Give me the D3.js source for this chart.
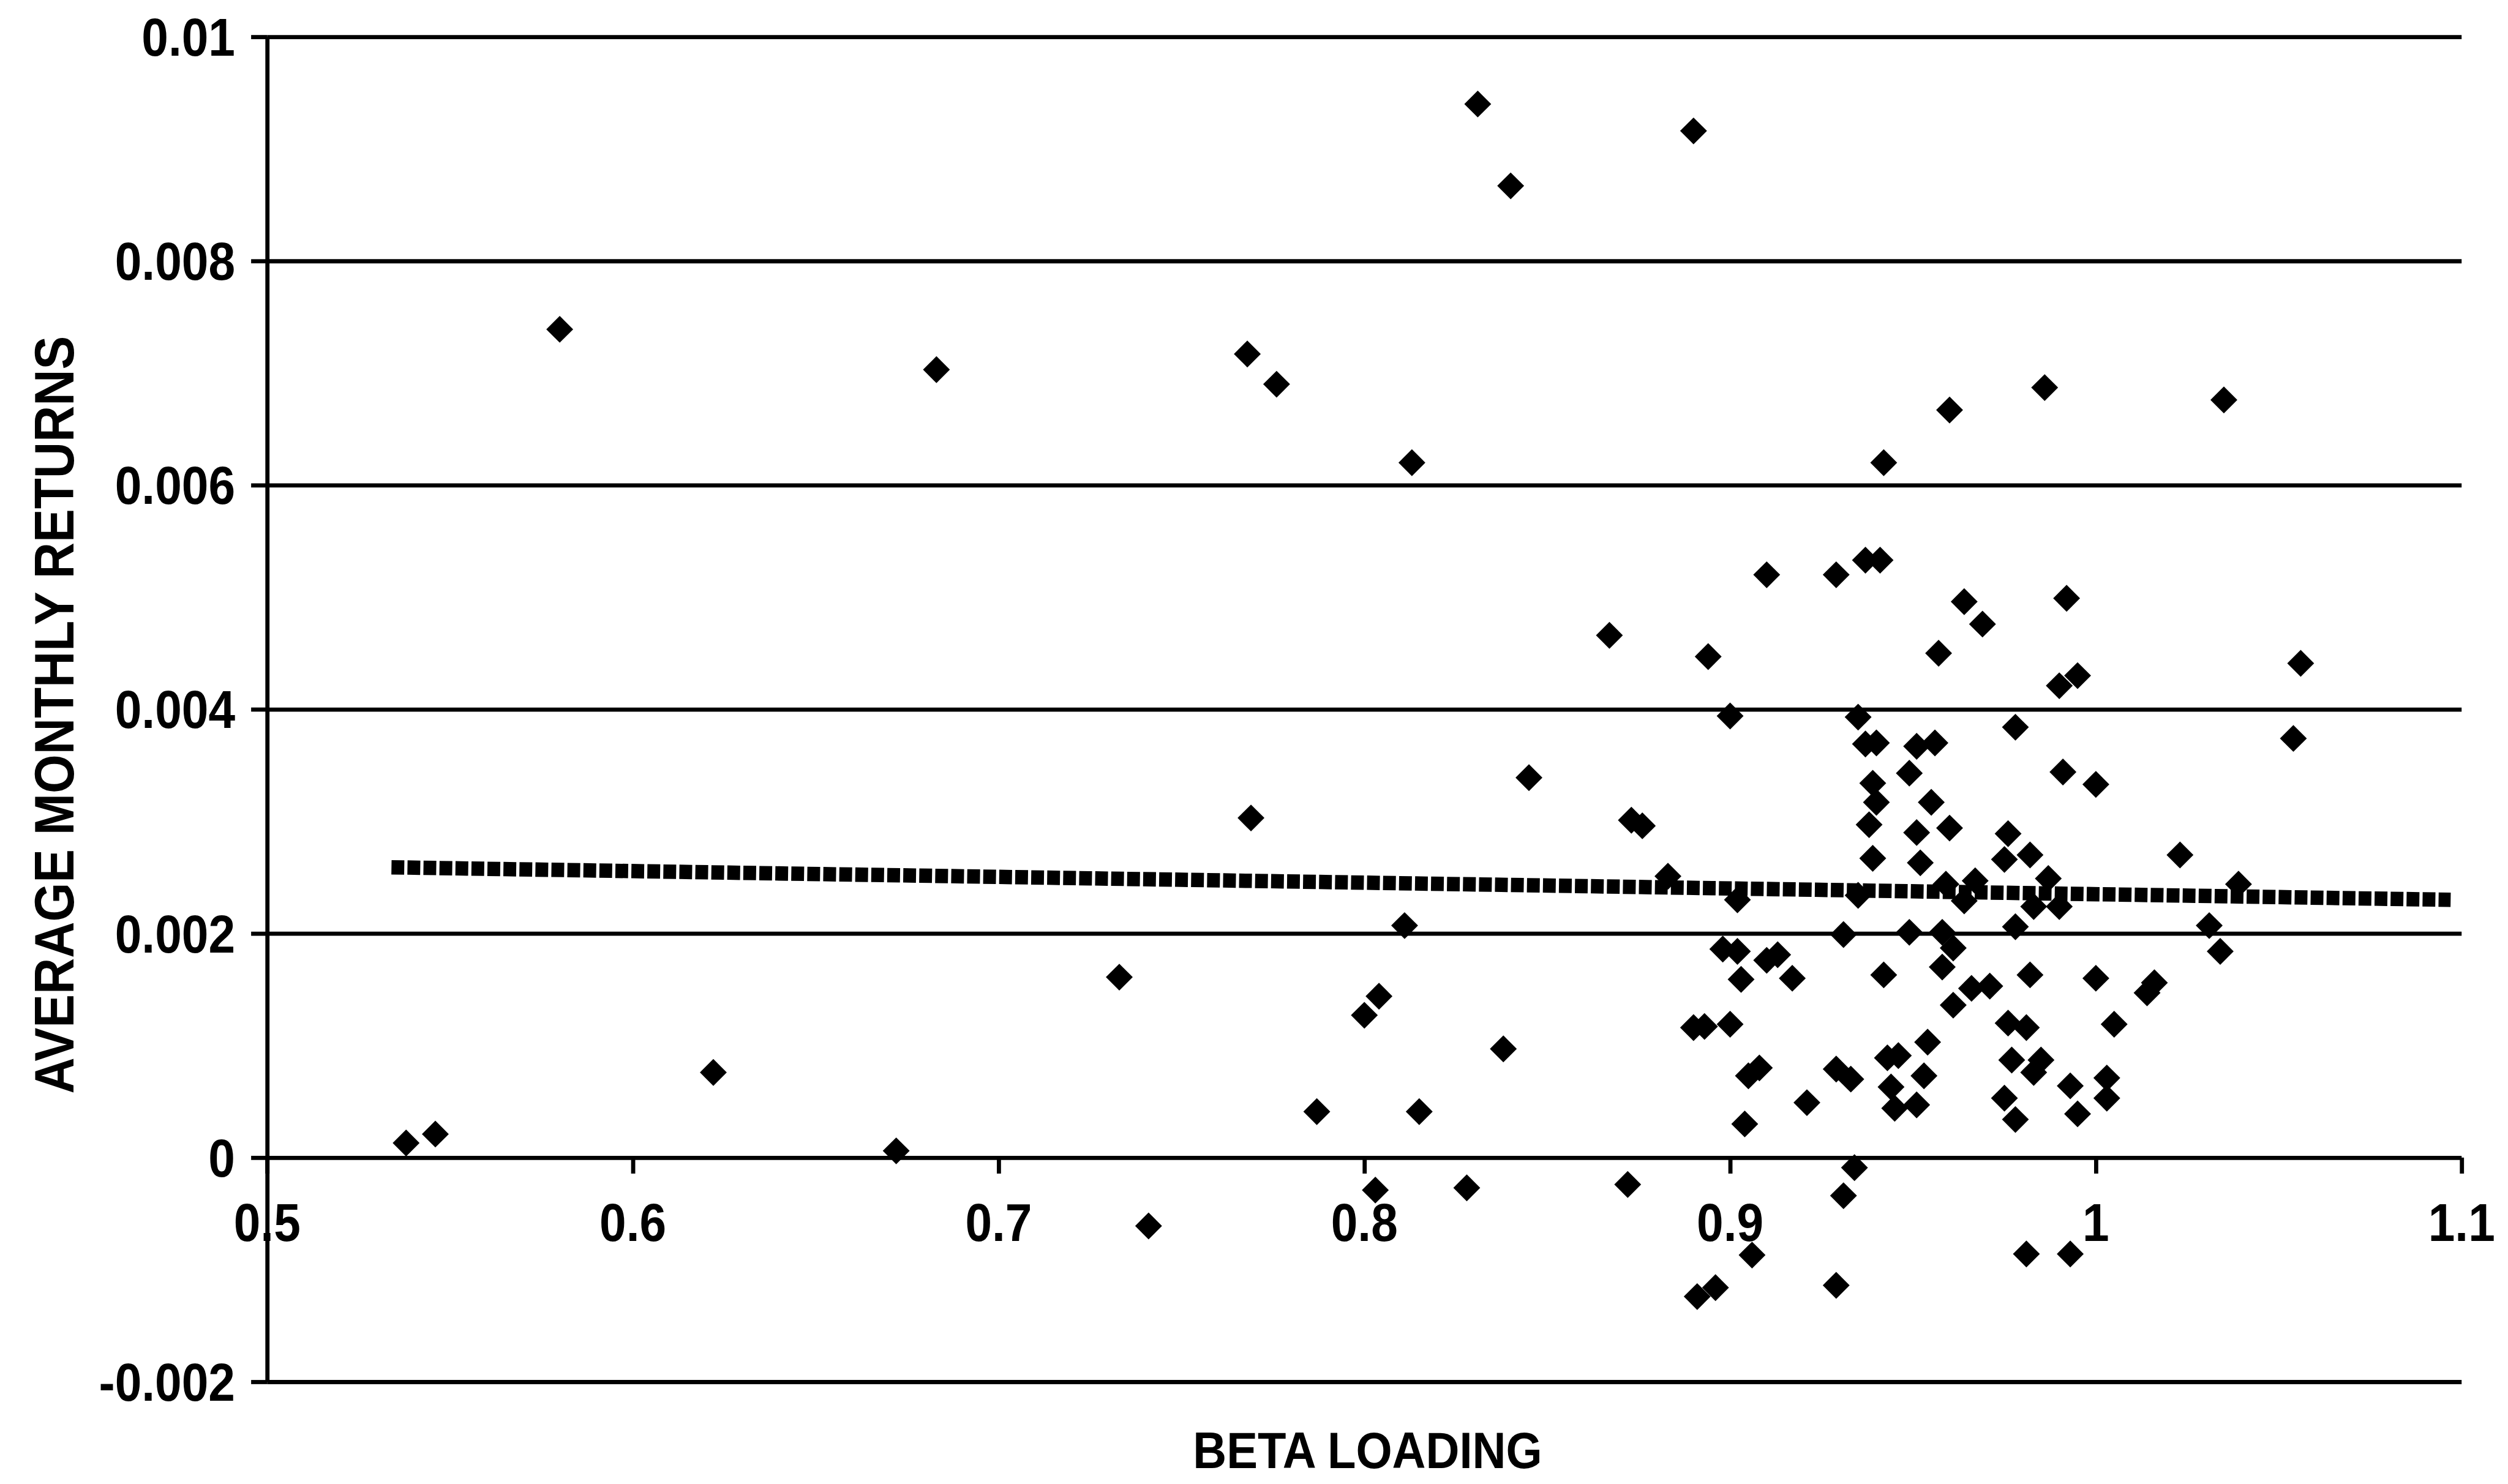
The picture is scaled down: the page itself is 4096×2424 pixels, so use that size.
<!DOCTYPE html>
<html>
<head>
<meta charset="utf-8">
<script src="https://cdn.jsdelivr.net/npm/d3@7/dist/d3.min.js"></script>
<style>
  html, body { margin: 0; padding: 0; background: #fff; overflow: hidden; }
  svg { display: block; }
</style>
</head>
<body>
<svg id="chart"></svg>
<script>
// Beta loading of each portfolio and its average monthly return
const betaLoading = [
  0.538, 0.546, 0.580, 0.622, 0.672, 0.683, 0.733, 0.741, 0.768, 0.769,
  0.776, 0.787, 0.800, 0.804, 0.803, 0.811, 0.813, 0.815, 0.828, 0.831,
  0.838, 0.840, 0.845, 0.867, 0.872, 0.873, 0.876, 0.883, 0.890, 0.890,
  0.893, 0.894, 0.900, 0.891, 0.896, 0.900, 0.898, 0.902, 0.903, 0.902,
  0.905, 0.908, 0.904, 0.906, 0.910, 0.910, 0.913, 0.917, 0.921, 0.929,
  0.933, 0.929, 0.929, 0.931, 0.931, 0.934, 0.935, 0.935, 0.937, 0.940,
  0.937, 0.941, 0.939, 0.940, 0.938, 0.939, 0.942, 0.942, 0.943, 0.946,
  0.944, 0.945, 0.951, 0.949, 0.949, 0.951, 0.956, 0.951, 0.952, 0.959,
  0.955, 0.954, 0.953, 0.957, 0.958, 0.961, 0.958, 0.960, 0.961, 0.966,
  0.971, 0.960, 0.964, 0.964, 0.969, 0.967, 0.976, 0.975, 0.976, 0.978,
  0.978, 0.977, 0.975, 0.978, 0.981, 0.982, 0.987, 0.983, 0.990, 0.982,
  0.983, 0.985, 0.986, 0.990, 0.995, 0.991, 0.992, 0.993, 0.995, 1.000,
  1.000, 1.003, 1.003, 1.005, 1.014, 1.016, 1.023, 1.031, 1.034, 1.035,
  1.039, 1.054, 1.056, 0.981, 0.993
];
const avgMonthlyReturn = [
  0.00013, 0.00021, 0.00739, 0.00076, 0.00006, 0.00703, 0.00161, -0.00061, 0.00717, 0.00303,
  0.00690, 0.00041, 0.00127, 0.00144, -0.00029, 0.00207, 0.00620, 0.00041, -0.00027, 0.00940,
  0.00097, 0.00867, 0.00339, 0.00466, -0.00024, 0.00301, 0.00296, 0.00251, 0.00916, 0.00116,
  0.00117, 0.00447, 0.00119, -0.00124, -0.00116, 0.00394, 0.00186, 0.00184, 0.00159, 0.00230,
  0.00073, 0.00080, 0.00030, -0.00087, 0.00520, 0.00176, 0.00181, 0.00160, 0.00049, 0.00079,
  0.00070, -0.00114, 0.00520, 0.00199, -0.00034, -0.00009, 0.00393, 0.00234, 0.00369, 0.00370,
  0.00533, 0.00533, 0.00334, 0.00317, 0.00297, 0.00267, 0.00620, 0.00163, 0.00089, 0.00091,
  0.00063, 0.00044, 0.00047, 0.00343, 0.00201, 0.00367, 0.00370, 0.00290, 0.00263, 0.00244,
  0.00317, 0.00103, 0.00073, 0.00450, 0.00201, 0.00187, 0.00170, 0.00294, 0.00136, 0.00151,
  0.00153, 0.00667, 0.00229, 0.00496, 0.00476, 0.00247, 0.00120, 0.00266, 0.00289, 0.00384,
  0.00206, 0.00087, 0.00053, 0.00034, 0.00116, 0.00270, 0.00249, 0.00224, 0.00224, 0.00163,
  0.00076, 0.00087, 0.00687, 0.00421, 0.00430, 0.00344, 0.00499, 0.00064, 0.00039, 0.00333,
  0.00160, 0.00071, 0.00053, 0.00119, 0.00147, 0.00156, 0.00270, 0.00207, 0.00184, 0.00676,
  0.00244, 0.00374, 0.00441, -0.00086, -0.00086
];

// Fitted line: beta at both ends and the fitted return there
const trendBeta = [0.534, 1.097];
const trendReturn = [0.00259, 0.00230];

const xTicks = [0.5, 0.6, 0.7, 0.8, 0.9, 1.0, 1.1];
const xTickLabels = ["0.5", "0.6", "0.7", "0.8", "0.9", "1", "1.1"];
const yTicks = [-0.002, 0, 0.002, 0.004, 0.006, 0.008, 0.01];
const yTickLabels = ["-0.002", "0", "0.002", "0.004", "0.006", "0.008", "0.01"];
const xTitle = "BETA LOADING";
const yTitle = "AVERAGE MONTHLY RETURNS";

// ---- layout (base units, scaled to the page) ----
const W = 4096, H = 2424;
const S = W / 1568;
const FONT = "'Liberation Sans', Arial, Helvetica, sans-serif";

const svg = d3.select("#chart").attr("width", W).attr("height", H);
svg.append("rect").attr("width", W).attr("height", H).attr("fill", "#fff");

const x = d3.scaleLinear().domain([0.5, 1.1]).range([167 * S, 1539 * S]);
const y = d3.scaleLinear().domain([-0.002, 0.01]).range([864 * S, 23 * S]);

const lineW = 2.6 * S;
const tickLen = 10 * S;

// horizontal grid lines across the plot
const grid = d3.axisLeft(y).tickValues(yTicks)
  .tickSize(-(x.range()[1] - x.range()[0])).tickFormat("");
svg.append("g").attr("transform", `translate(${x(0.5)},0)`).call(grid)
  .call(g => g.select(".domain").remove())
  .call(g => g.selectAll(".tick line").attr("stroke", "#000").attr("stroke-width", lineW));

// y axis with outward ticks
const yAxis = d3.axisLeft(y).tickValues(yTicks).tickSize(tickLen).tickSizeOuter(0).tickFormat("");
svg.append("g").attr("transform", `translate(${x(0.5)},0)`).call(yAxis)
  .call(g => g.select(".domain").attr("stroke", "#000").attr("stroke-width", lineW))
  .call(g => g.selectAll(".tick line").attr("stroke", "#000").attr("stroke-width", lineW));

// x axis ticks hang below the zero line
const xAxis = d3.axisBottom(x).tickValues(xTicks).tickSize(tickLen).tickSizeOuter(0).tickFormat("");
svg.append("g").attr("transform", `translate(0,${y(0)})`).call(xAxis)
  .call(g => g.select(".domain").remove())
  .call(g => g.selectAll(".tick line").attr("stroke", "#000").attr("stroke-width", lineW));

// bold labels, slightly narrowed
function label(txt, tx, ty, size, anchor, rot) {
  svg.append("text")
    .attr("transform", `translate(${tx},${ty}) rotate(${rot || 0}) scale(0.91,1)`)
    .attr("text-anchor", anchor)
    .attr("font-family", FONT)
    .attr("font-weight", "bold")
    .attr("font-size", size)
    .attr("fill", "#000")
    .text(txt);
}

const tickFont = 33 * S;
yTicks.forEach((v, i) => label(yTickLabels[i], 147 * S, y(v) + 11.8 * S, tickFont, "end"));
xTicks.forEach((v, i) => label(xTickLabels[i], x(v), y(0) + 52 * S, tickFont, "middle"));

label(xTitle, 855 * S, 918 * S, 32 * S, "middle");
label(yTitle, 46 * S, 447 * S, 34.5 * S, "middle", -90);

// fitted line drawn as a run of small blocks
const trendPts = trendBeta.map((b, i) => [b, trendReturn[i]]);
svg.append("path")
  .attr("d", d3.line().x(d => x(d[0])).y(d => y(d[1]))(trendPts))
  .attr("fill", "none")
  .attr("stroke", "#000")
  .attr("stroke-width", 9 * S)
  .attr("stroke-dasharray", `${8 * S},${2 * S}`);

// square-cornered diamond marker
const diamondMarker = {
  draw(ctx, size) {
    const r = Math.sqrt(size / 2);
    ctx.moveTo(0, -r);
    ctx.lineTo(r, 0);
    ctx.lineTo(0, r);
    ctx.lineTo(-r, 0);
    ctx.closePath();
  }
};
const r = 8.4 * S;
const marker = d3.symbol().type(diamondMarker).size(2 * r * r);

const points = betaLoading.map((b, i) => ({ b, v: avgMonthlyReturn[i] }));
svg.append("g").selectAll("path").data(points).join("path")
  .attr("transform", d => `translate(${x(d.b)},${y(d.v)})`)
  .attr("d", marker)
  .attr("fill", "#000");
</script>
</body>
</html>
